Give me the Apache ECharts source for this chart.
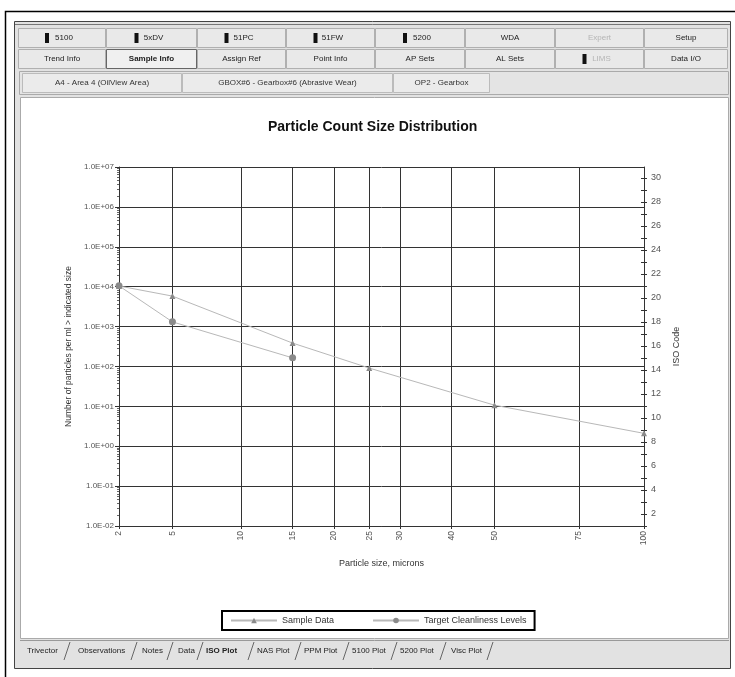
<!DOCTYPE html>
<html><head><meta charset="utf-8">
<script src="https://cdn.jsdelivr.net/npm/echarts@6/dist/echarts.min.js"></script>
<style>html,body{margin:0;padding:0;background:#fff;}#c{width:735px;height:677px;}</style>
</head><body><div id="c"></div>
<script>
// ---------- data ----------
const sizeTicks = [2, 5, 10, 15, 20, 25, 30, 40, 50, 75, 100];
const sampleSizes = [2, 5, 15, 25, 50, 100];
const sampleCounts = [10400, 5800, 385, 91, 10.7, 2.1];
const targetSizes = [2, 5, 15];
const targetCounts = [10486, 1311, 164];
const seriesNames = ['Sample Data', 'Target Cleanliness Levels'];
const toolbarRow1 = ['5100', '5xDV', '51PC', '51FW', '5200', 'WDA', 'Expert', 'Setup'];
const toolbarRow2 = ['Trend Info', 'Sample Info', 'Assign Ref', 'Point Info', 'AP Sets', 'AL Sets', 'LIMS', 'Data I/O'];
const pathItems = ['A4 - Area 4 (OilView Area)', 'GBOX#6 - Gearbox#6 (Abrasive Wear)', 'OP2 - Gearbox'];
const bottomTabs = ['Trivector', 'Observations', 'Notes', 'Data', 'ISO Plot', 'NAS Plot', 'PPM Plot', '5100 Plot', '5200 Plot', 'Visc Plot'];

// ISO 4406 chart x scale: (log size)^2
function isoX(s) { const l = Math.log10(s); return l * l; }
function fromIsoX(v) { return Math.round(Math.pow(10, Math.sqrt(v))); }

const FONT = 'Liberation Sans';
const g = [];
// outer frame
g.push({type:'rect', z:-30, shape:{x:5.5, y:11.5, width:740, height:700}, style:{fill:'#fff', stroke:'#000', lineWidth:1.5}});
// window
g.push({type:'rect', z:-29, shape:{x:14.5, y:21.5, width:716, height:647}, style:{fill:'#e2e2e2', stroke:'#444', lineWidth:1}});
g.push({type:'line', z:-28, shape:{x1:15, y1:24.5, x2:730, y2:24.5}, style:{stroke:'#777', lineWidth:1}});
// toolbar buttons
const bx = [18, 106, 197, 286, 375, 465, 555, 644, 728];
function button(label, i, y, opts) {
  const x0 = bx[i], x1 = bx[i + 1], cx = (x0 + x1) / 2;
  g.push({type:'rect', z:-27, shape:{x:x0 + 0.5, y:y + 0.5, width:x1 - x0 - 1, height:19}, style:{fill: opts.sel ? '#f0f0f0' : '#e9e9e9', stroke: opts.sel ? '#666' : '#b0b0b0', lineWidth:1}});
  let tx = cx;
  if (opts.icon) {
    g.push({type:'rect', z:-26, shape:{x:cx - 17, y:y + 5, width:4, height:10}, style:{fill:'#111'}});
    tx = cx + 2;
  }
  g.push({type:'text', z:-26, x: tx, y: y + 10, style:{text: label, fontSize: 8, fontFamily: FONT, fontWeight: opts.sel ? 'bold' : 'normal', fill: opts.gray ? '#b5b5b5' : '#222', align:'center', verticalAlign:'middle'}});
}
toolbarRow1.forEach((t, i) => button(t, i, 28, {icon: i < 5, gray: t === 'Expert'}));
toolbarRow2.forEach((t, i) => button(t, i, 49, {sel: t === 'Sample Info', icon: t === 'LIMS', gray: t === 'LIMS'}));
// path bar
g.push({type:'rect', z:-27, shape:{x:19.5, y:71.5, width:709, height:23}, style:{fill:'#e4e4e4', stroke:'#aaa', lineWidth:1}});
const px = [22, 182, 393, 490];
pathItems.forEach((t, i) => {
  g.push({type:'rect', z:-26, shape:{x:px[i] + 0.5, y:73.5, width:px[i + 1] - px[i] - 1, height:19}, style:{fill:'#ebebeb', stroke:'#bbb', lineWidth:1}});
  g.push({type:'text', z:-25, x:(px[i] + px[i + 1]) / 2, y:83, style:{text:t, fontSize:8, fontFamily:FONT, fill:'#333', align:'center', verticalAlign:'middle'}});
});
// chart white area
g.push({type:'rect', z:-27, shape:{x:20.5, y:97.5, width:708, height:541}, style:{fill:'#fff', stroke:'#aaa', lineWidth:1}});
// bottom tabs
g.push({type:'line', z:-26, shape:{x1:20, y1:640.5, x2:729, y2:640.5}, style:{stroke:'#999', lineWidth:1}});
const tabX = [27, 78, 142, 178, 206, 257, 304, 352, 400, 451];
const sepX = [67, 134, 170, 200, 251, 298, 346, 394, 443, 490];
bottomTabs.forEach((t, i) => {
  const sel = t === 'ISO Plot';
  g.push({type:'text', z:-25, x:tabX[i], y:651, style:{text:t, fontSize:8, fontFamily:FONT, fontWeight: sel ? 'bold' : 'normal', fill:'#222', align:'left', verticalAlign:'middle'}});
  g.push({type:'line', z:-25, shape:{x1:sepX[i] - 3, y1:660, x2:sepX[i] + 3, y2:642}, style:{stroke:'#666', lineWidth:1}});
});

function expLabel(v) {
  const e = Math.round(Math.log10(v));
  return '1.0E' + (e < 0 ? '-' : '+') + String(Math.abs(e)).padStart(2, '0');
}
const isoMax = 1 + 9 / Math.log10(2);
const xt = sizeTicks.map(isoX);

const option = {
  animation: false,
  backgroundColor: '#fff',
  title: {text:'Particle Count Size Distribution', left:268, top:120, padding:0,
    textStyle:{fontSize:14, fontWeight:'bold', fontFamily:FONT, color:'#111'}},
  grid: {left:119, right:91, top:167, bottom:151},
  legend: {data: seriesNames, left:222, top:611, orient:'horizontal', backgroundColor:'#fff',
    borderColor:'#000', borderWidth:2, borderRadius:0, padding:[5, 8], itemGap:38, itemWidth:46, itemHeight:7,
    textStyle:{fontSize:9, fontFamily:FONT, color:'#333'}},
  xAxis: {type:'value', min:isoX(2), max:isoX(100),
    name:'Particle size, microns', nameLocation:'middle', nameGap:33,
    nameTextStyle:{fontSize:9, fontFamily:FONT, color:'#333'},
    axisLine:{show:true, lineStyle:{color:'#333', width:1}},
    axisTick:{show:true, length:3, customValues: xt, lineStyle:{color:'#333'}},
    axisLabel:{customValues: xt, rotate:90, margin:5, fontSize:8.5, fontFamily:FONT, color:'#555', formatter: v => String(fromIsoX(v))},
    splitLine:{show:true, lineStyle:{color:'#333', width:1}}},
  yAxis: [
    {type:'log', logBase:10, min:0.01, max:1e7, position:'left',
     name:'Number of particles per ml > indicated size', nameLocation:'middle', nameGap:37,
     nameTextStyle:{fontSize:8.5, fontFamily:FONT, color:'#333'},
     axisLine:{show:true, lineStyle:{color:'#333'}},
     axisTick:{show:true, length:4, lineStyle:{color:'#333'}},
     minorTick:{show:true, splitNumber:10, length:2, lineStyle:{color:'#666'}},
     axisLabel:{fontSize:8, fontFamily:FONT, color:'#555', margin:5, formatter: expLabel},
     splitLine:{show:true, lineStyle:{color:'#333', width:1}}},
    {type:'value', min:1, max:isoMax, interval:1, position:'right',
     name:'ISO Code', nameLocation:'middle', nameGap:28, nameRotate:90,
     nameTextStyle:{fontSize:9, fontFamily:FONT, color:'#333'},
     axisLine:{show:true, lineStyle:{color:'#333'}},
     axisTick:{show:true, length:3, lineStyle:{color:'#333'}},
     axisLabel:{fontSize:9, fontFamily:FONT, color:'#555', margin:7, showMaxLabel:false,
       formatter: v => (Math.abs(v - Math.round(v)) < 1e-9 && Math.round(v) % 2 === 0) ? String(Math.round(v)) : ''},
     splitLine:{show:false}},
    {type:'value', min:1, max:isoMax, interval:1, position:'right',
     axisLine:{show:false}, axisLabel:{show:false}, splitLine:{show:false},
     axisTick:{show:true, inside:true, length:3, lineStyle:{color:'#333'}}}
  ],
  series: [
    {name: seriesNames[0], type:'line', yAxisIndex:0, z:5,
     data: sampleSizes.map((s, i) => [isoX(s), sampleCounts[i]]),
     symbol:'triangle', symbolSize:6, showAllSymbol:true,
     lineStyle:{color:'#b8b8b8', width:1}, itemStyle:{color:'#8a8a8a'}},
    {name: seriesNames[1], type:'line', yAxisIndex:0, z:5,
     data: targetSizes.map((s, i) => [isoX(s), targetCounts[i]]),
     symbol:'circle', symbolSize:7, showAllSymbol:true,
     lineStyle:{color:'#b8b8b8', width:1}, itemStyle:{color:'#8a8a8a'}}
  ],
  graphic: g
};
const chart = echarts.init(document.getElementById('c'), null, {renderer:'canvas'});
chart.setOption(option);
</script></body></html>
